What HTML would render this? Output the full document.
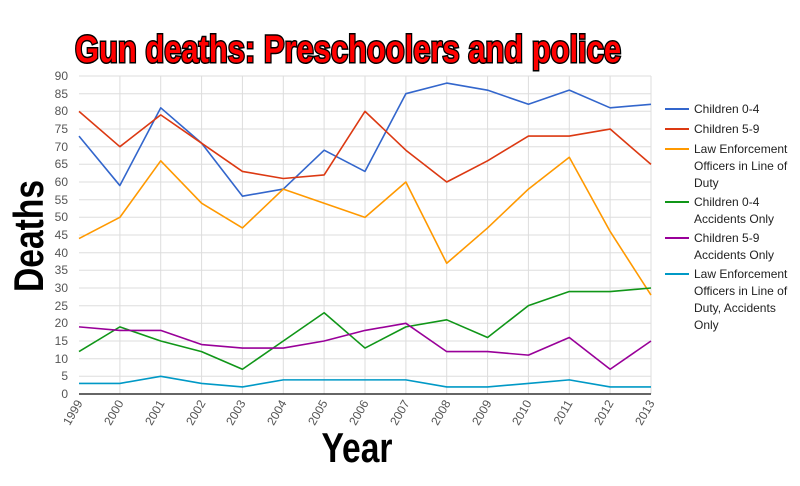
<!DOCTYPE html>
<html><head><meta charset="utf-8"><style>
body{margin:0;background:#fff;width:800px;height:481px;overflow:hidden;font-family:"Liberation Sans",sans-serif}
</style></head><body>
<svg width="800" height="481" viewBox="0 0 800 481" xmlns="http://www.w3.org/2000/svg" font-family="Liberation Sans, sans-serif">
<text x="348" y="62" text-anchor="middle" font-size="38" font-weight="bold" fill="#f00" stroke="#000" stroke-width="3" paint-order="stroke" transform="translate(348,0) scale(0.78,1) translate(-348,0)" textLength="700" lengthAdjust="spacingAndGlyphs">Gun deaths: Preschoolers and police</text>
<g stroke="#ddd" stroke-width="1" fill="none">
<path d="M79 376.3H651M79 358.7H651M79 341H651M79 323.3H651M79 305.7H651M79 288H651M79 270.3H651M79 252.7H651M79 235H651M79 217.3H651M79 199.7H651M79 182H651M79 164.3H651M79 146.7H651M79 129H651M79 111.3H651M79 93.7H651M79 76H651"/>
<path d="M119.9 76V394M160.7 76V394M201.6 76V394M242.4 76V394M283.3 76V394M324.1 76V394M365 76V394M405.9 76V394M446.7 76V394M487.6 76V394M528.4 76V394M569.3 76V394M610.1 76V394M651 76V394"/>
</g>
<line x1="79" y1="394" x2="651" y2="394" stroke="#333" stroke-width="1.5"/>
<g font-size="12" fill="#555" text-anchor="end">
<text x="68" y="398">0</text><text x="68" y="380">5</text><text x="68" y="363">10</text><text x="68" y="345">15</text><text x="68" y="327">20</text><text x="68" y="310">25</text><text x="68" y="292">30</text><text x="68" y="274">35</text><text x="68" y="257">40</text><text x="68" y="239">45</text><text x="68" y="221">50</text><text x="68" y="204">55</text><text x="68" y="186">60</text><text x="68" y="168">65</text><text x="68" y="151">70</text><text x="68" y="133">75</text><text x="68" y="115">80</text><text x="68" y="98">85</text><text x="68" y="80">90</text>
</g>
<g font-size="12" fill="#555" text-anchor="end">
<text transform="translate(83,403) rotate(-60)">1999</text>
<text transform="translate(124,403) rotate(-60)">2000</text>
<text transform="translate(165,403) rotate(-60)">2001</text>
<text transform="translate(206,403) rotate(-60)">2002</text>
<text transform="translate(246,403) rotate(-60)">2003</text>
<text transform="translate(287,403) rotate(-60)">2004</text>
<text transform="translate(328,403) rotate(-60)">2005</text>
<text transform="translate(369,403) rotate(-60)">2006</text>
<text transform="translate(410,403) rotate(-60)">2007</text>
<text transform="translate(451,403) rotate(-60)">2008</text>
<text transform="translate(492,403) rotate(-60)">2009</text>
<text transform="translate(532,403) rotate(-60)">2010</text>
<text transform="translate(573,403) rotate(-60)">2011</text>
<text transform="translate(614,403) rotate(-60)">2012</text>
<text transform="translate(655,403) rotate(-60)">2013</text>
</g>
<g transform="translate(79,394) scale(40.857,-3.533)" fill="none" stroke-width="1.6" stroke-linejoin="round">
<polyline vector-effect="non-scaling-stroke" stroke="#3366cc" points="0,73 1,59 2,81 3,71 4,56 5,58 6,69 7,63 8,85 9,88 10,86 11,82 12,86 13,81 14,82"/>
<polyline vector-effect="non-scaling-stroke" stroke="#dc3912" points="0,80 1,70 2,79 3,71 4,63 5,61 6,62 7,80 8,69 9,60 10,66 11,73 12,73 13,75 14,65"/>
<polyline vector-effect="non-scaling-stroke" stroke="#ff9900" points="0,44 1,50 2,66 3,54 4,47 5,58 6,54 7,50 8,60 9,37 10,47 11,58 12,67 13,46 14,28"/>
<polyline vector-effect="non-scaling-stroke" stroke="#109618" points="0,12 1,19 2,15 3,12 4,7 5,15 6,23 7,13 8,19 9,21 10,16 11,25 12,29 13,29 14,30"/>
<polyline vector-effect="non-scaling-stroke" stroke="#990099" points="0,19 1,18 2,18 3,14 4,13 5,13 6,15 7,18 8,20 9,12 10,12 11,11 12,16 13,7 14,15"/>
<polyline vector-effect="non-scaling-stroke" stroke="#0099c6" points="0,3 1,3 2,5 3,3 4,2 5,4 6,4 7,4 8,4 9,2 10,2 11,3 12,4 13,2 14,2"/>
</g>
<g stroke-width="2">
<line x1="665" y1="109" x2="689" y2="109" stroke="#3366cc"/>
<line x1="665" y1="129" x2="689" y2="129" stroke="#dc3912"/>
<line x1="665" y1="149" x2="689" y2="149" stroke="#ff9900"/>
<line x1="665" y1="202" x2="689" y2="202" stroke="#109618"/>
<line x1="665" y1="238" x2="689" y2="238" stroke="#990099"/>
<line x1="665" y1="274" x2="689" y2="274" stroke="#0099c6"/>
</g>
<g font-size="12" fill="#222">
<text x="694" y="113">Children 0-4</text>
<text x="694" y="133">Children 5-9</text>
<text x="694" y="153">Law Enforcement</text><text x="694" y="170">Officers in Line of</text><text x="694" y="187">Duty</text>
<text x="694" y="206">Children 0-4</text><text x="694" y="223">Accidents Only</text>
<text x="694" y="242">Children 5-9</text><text x="694" y="259">Accidents Only</text>
<text x="694" y="278">Law Enforcement</text><text x="694" y="295">Officers in Line of</text><text x="694" y="312">Duty, Accidents</text><text x="694" y="329">Only</text>
</g>
<text transform="translate(43,236) rotate(-90) scale(0.8,1)" text-anchor="middle" font-size="42" font-weight="bold" fill="#000">Deaths</text>
<text transform="translate(357,462) scale(0.8,1)" text-anchor="middle" font-size="42" font-weight="bold" fill="#000">Year</text>
</svg>
</body></html>
